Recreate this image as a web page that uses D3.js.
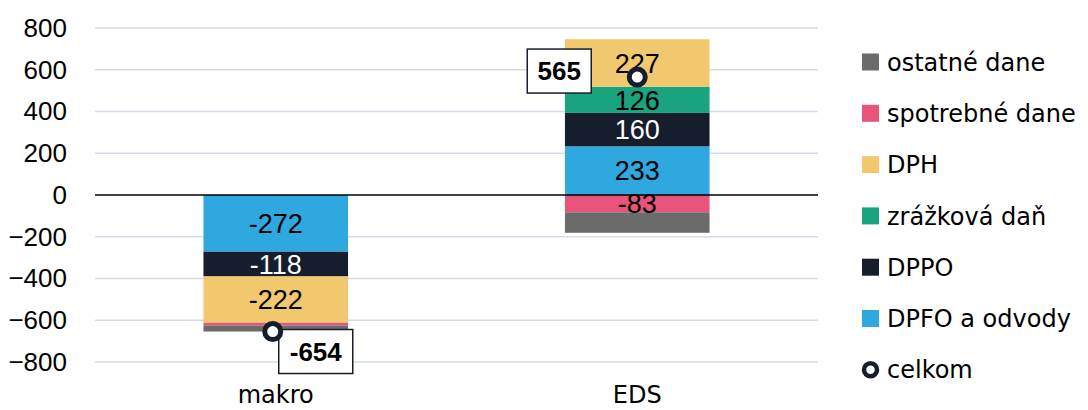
<!DOCTYPE html>
<html>
<head>
<meta charset="utf-8">
<script src="https://cdn.jsdelivr.net/npm/d3@7"></script>
<style>
  body { margin: 0; background: #fff; }
  svg text { font-family: "DejaVu Sans", sans-serif; fill: #000; }
  .num { font-family: "Liberation Sans", Arial, sans-serif; }
</style>
</head>
<body>
<div id="vis"></div>
<script>
var categories = ['makro', 'EDS'];
var seriesNames = ['DPFO a odvody', 'DPPO', 'zrážková daň', 'DPH', 'spotrebné dane', 'ostatné dane'];
var dpfo = [-272, 233];
var dppo = [-118, 160];
var zrazkova = [0, 126];
var dph = [-222, 227];
var spotrebne = [-13, -83];
var ostatne = [-29, -98];
var celkom = [-654, 565];
var yTicks = [-800, -600, -400, -200, 0, 200, 400, 600, 800];

var colors = {
  'DPFO a odvody': '#2ea8df',
  'DPPO': '#161e2d',
  'zrážková daň': '#1aa37f',
  'DPH': '#f2c86e',
  'spotrebné dane': '#e8547a',
  'ostatné dane': '#6b6b6b'
};
var labelColor = { 'DPPO': '#fff' };

var width = 1088, height = 410;
var plotLeft = 95, plotRight = 818;

var svg = d3.select('#vis').append('svg')
  .attr('width', width)
  .attr('height', height);

var x = d3.scaleBand().domain(categories).range([plotLeft, plotRight]);
var barW = x.bandwidth() * 0.4;
var y = d3.scaleLinear().domain([-800, 800]).range([362, 28]);

// gridlines
svg.selectAll('.grid')
  .data(yTicks.filter(function (d) { return d !== 0; }))
  .enter().append('line')
  .attr('x1', plotLeft).attr('x2', plotRight)
  .attr('y1', function (d) { return y(d); })
  .attr('y2', function (d) { return y(d); })
  .attr('stroke', '#d3dce9').attr('stroke-width', 1.5);

// y axis labels
var yAxis = svg.append('g')
  .attr('transform', 'translate(67,0)')
  .call(d3.axisLeft(y).tickValues(yTicks).tickSize(0).tickPadding(0));
yAxis.select('.domain').remove();
yAxis.selectAll('text')
  .attr('class', 'num')
  .style('font-size', '26px')
  .attr('fill', '#000');

// stacked data
var values = {
  'DPFO a odvody': dpfo, 'DPPO': dppo, 'zrážková daň': zrazkova,
  'DPH': dph, 'spotrebné dane': spotrebne, 'ostatné dane': ostatne
};
var table = categories.map(function (c, i) {
  var row = { cat: c };
  seriesNames.forEach(function (s) { row[s] = values[s][i]; });
  return row;
});
var stacked = d3.stack().keys(seriesNames).offset(d3.stackOffsetDiverging)(table);

var layers = svg.selectAll('.layer')
  .data(stacked)
  .enter().append('g')
  .attr('fill', function (d) { return colors[d.key]; });

layers.selectAll('rect')
  .data(function (d) { return d; })
  .enter().append('rect')
  .attr('x', function (d) { return x(d.data.cat) + (x.bandwidth() - barW) / 2; })
  .attr('width', barW)
  .attr('y', function (d) { return y(Math.max(d[0], d[1])); })
  .attr('height', function (d) { return Math.abs(y(d[0]) - y(d[1])); });

// segment labels
stacked.forEach(function (layer) {
  if (layer.key === 'ostatné dane') return;
  layer.forEach(function (d) {
    var v = d.data[layer.key];
    if (Math.abs(v) < 50) return;
    svg.append('text')
      .attr('class', 'num')
      .attr('x', x(d.data.cat) + x.bandwidth() / 2)
      .attr('y', y((d[0] + d[1]) / 2))
      .attr('dy', '0.36em')
      .attr('text-anchor', 'middle')
      .style('font-size', '27px')
      .style('fill', labelColor[layer.key] || '#000')
      .text(v);
  });
});

// zero line
svg.append('line')
  .attr('x1', plotLeft).attr('x2', plotRight)
  .attr('y1', y(0)).attr('y2', y(0))
  .attr('stroke', '#000').attr('stroke-width', 1.3);

// x labels
svg.selectAll('.xlab')
  .data(categories)
  .enter().append('text')
  .attr('x', function (d) { return x(d) + x.bandwidth() / 2; })
  .attr('y', 403)
  .attr('text-anchor', 'middle')
  .style('font-size', '24px')
  .text(function (d) { return d; });

// totals
var totals = categories.map(function (c, i) { return { cat: c, v: celkom[i] }; });
var boxOffset = { makro: { dx: 43, dy: 20, w: 74 }, EDS: { dx: -78, dy: -6, w: 64 } };

totals.forEach(function (d) {
  var cx = x(d.cat) + x.bandwidth() / 2 - (d.cat === 'makro' ? 3 : 0);
  var cy = y(d.v);
  var o = boxOffset[d.cat];
  var bx = cx + o.dx, by = cy + o.dy;
  svg.append('rect')
    .attr('x', bx - o.w / 2).attr('y', by - 22)
    .attr('width', o.w).attr('height', 44)
    .attr('fill', '#fff').attr('stroke', '#161e2d').attr('stroke-width', 1.5);
  svg.append('text')
    .attr('class', 'num')
    .attr('x', bx).attr('y', by)
    .attr('dy', '0.36em')
    .attr('text-anchor', 'middle')
    .style('font-size', '26px')
    .style('font-weight', 'bold')
    .text(d.v);
  svg.append('circle')
    .attr('cx', cx).attr('cy', cy).attr('r', 8)
    .attr('fill', '#fff').attr('stroke', '#161e2d').attr('stroke-width', 5);
});

// legend
var legendItems = seriesNames.slice().reverse().concat(['celkom']);
var legend = svg.selectAll('.legend')
  .data(legendItems)
  .enter().append('g')
  .attr('transform', function (d, i) { return 'translate(862,' + (62 + i * 51.3) + ')'; });

legend.each(function (d) {
  var g = d3.select(this);
  if (d === 'celkom') {
    g.append('circle').attr('cx', 8.5).attr('cy', 0).attr('r', 6.5)
      .attr('fill', '#fff').attr('stroke', '#161e2d').attr('stroke-width', 4.5);
  } else {
    g.append('rect').attr('x', 0).attr('y', -8.5).attr('width', 17).attr('height', 17)
      .attr('fill', colors[d]);
  }
  g.append('text')
    .attr('x', 25).attr('y', 0).attr('dy', '0.36em')
    .style('font-size', '24px')
    .text(d);
});
</script>
</body>
</html>
